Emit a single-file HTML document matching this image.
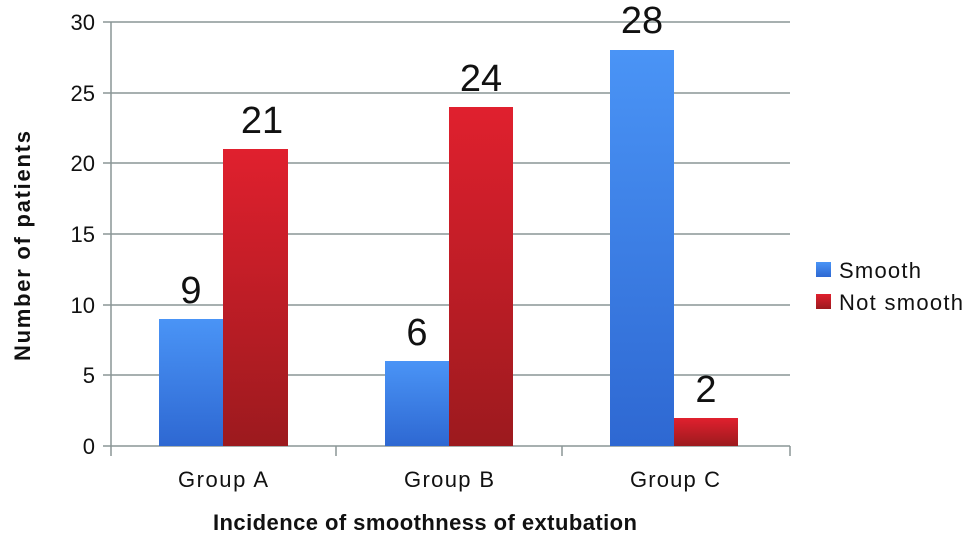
<!DOCTYPE html>
<html><head><style>body{margin:0;background:#fff}svg{display:block;font-family:"Liberation Sans",sans-serif}</style></head><body>
<svg width="966" height="536" viewBox="0 0 966 536">
<defs>
<linearGradient id="b" x1="0" y1="0" x2="0" y2="1"><stop offset="0" stop-color="#4a94f6"/><stop offset="1" stop-color="#2e68d2"/></linearGradient>
<linearGradient id="r" x1="0" y1="0" x2="0" y2="1"><stop offset="0" stop-color="#e0202e"/><stop offset="1" stop-color="#9c1a1e"/></linearGradient>
</defs>
<g stroke="#8a9696" stroke-width="1.5">
<line x1="111" y1="22" x2="790" y2="22"/><line x1="111" y1="93" x2="790" y2="93"/><line x1="111" y1="163" x2="790" y2="163"/><line x1="111" y1="234" x2="790" y2="234"/><line x1="111" y1="305" x2="790" y2="305"/><line x1="111" y1="375" x2="790" y2="375"/>
<line x1="111" y1="22" x2="111" y2="446"/><line x1="103" y1="446" x2="790" y2="446"/>
<line x1="103" y1="22" x2="111" y2="22"/><line x1="103" y1="93" x2="111" y2="93"/><line x1="103" y1="163" x2="111" y2="163"/><line x1="103" y1="234" x2="111" y2="234"/><line x1="103" y1="305" x2="111" y2="305"/><line x1="103" y1="375" x2="111" y2="375"/>
<line x1="111" y1="446" x2="111" y2="456"/><line x1="336" y1="446" x2="336" y2="456"/><line x1="562" y1="446" x2="562" y2="456"/><line x1="790" y1="446" x2="790" y2="456"/>
</g>
<rect x="159" y="319" width="64" height="127" fill="url(#b)"/>
<rect x="223" y="149" width="65" height="297" fill="url(#r)"/>
<rect x="385" y="361" width="64" height="85" fill="url(#b)"/>
<rect x="449" y="107" width="64" height="339" fill="url(#r)"/>
<rect x="610" y="50" width="64" height="396" fill="url(#b)"/>
<rect x="674" y="418" width="64" height="28" fill="url(#r)"/>
<g font-size="22" fill="#111" text-anchor="end">
<text x="95" y="30">30</text><text x="95" y="101">25</text><text x="95" y="171">20</text><text x="95" y="242">15</text><text x="95" y="313">10</text><text x="95" y="383">5</text><text x="95" y="454">0</text>
</g>
<g font-size="38" fill="#111" text-anchor="middle">
<text x="191" y="303">9</text><text x="262" y="133">21</text><text x="417" y="345">6</text><text x="481" y="91">24</text><text x="642" y="33">28</text><text x="706" y="402">2</text>
</g>
<g font-size="22" fill="#111" text-anchor="middle">
<text x="223" y="487" textLength="90">Group A</text><text x="449" y="487" textLength="90">Group B</text><text x="675" y="487" textLength="90">Group C</text>
</g>
<text x="425" y="530" font-size="22" font-weight="bold" text-anchor="middle" fill="#111" textLength="424">Incidence of smoothness of extubation</text>
<text transform="translate(30,246) rotate(-90)" font-size="22" font-weight="bold" text-anchor="middle" fill="#111" textLength="230">Number of patients</text>
<rect x="816" y="262" width="15" height="15" fill="url(#b)"/>
<rect x="816" y="294" width="15" height="15" fill="url(#r)"/>
<g font-size="22" fill="#111"><text x="839" y="278" textLength="82">Smooth</text><text x="839" y="310" textLength="124">Not smooth</text></g>
</svg>
</body></html>
